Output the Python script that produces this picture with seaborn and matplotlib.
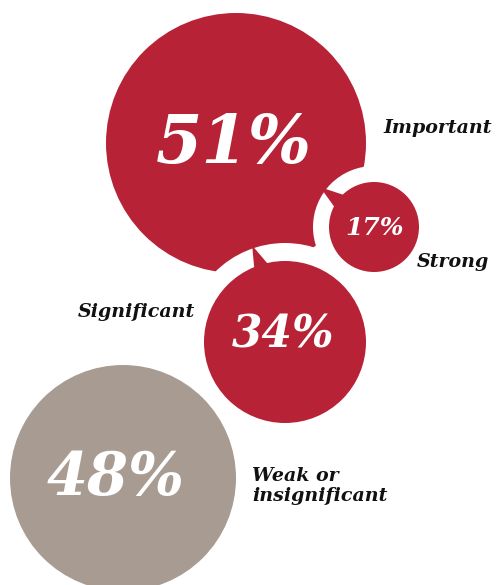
import numpy as np
import matplotlib
matplotlib.use("Agg")
import matplotlib.pyplot as plt
from matplotlib.patches import Circle, Polygon
import seaborn as sns

# Share of respondents per rating
categories = ["Important", "Strong", "Significant", "Weak or\ninsignificant"]
values = [51, 17, 34, 48]

# Bubble layout in pixel space (x, y measured from the top-left corner)
centers = [(236, 143), (374, 227), (285, 342), (123, 478)]
radii = [130, 45, 81, 113]
colors = ["#B72236", "#B72236", "#B72236", "#A89B92"]
value_sizes = [48, 18, 31.5, 42.5]          # pt
value_baselines = [163, 235, 347, 495]
value_x = [234, 375, 283, 116]

# Category label anchors (left, baseline of the last line)
label_pos = [(383, 133), (417, 267), (78, 317), (252, 501)]
label_size = 13.7

# White halo around the satellite bubbles and the small pointers joining them
halo_gap = {1: 16, 2: 18}
pointers = {
    1: (-153.4, -133.3, -143.5, 67),
    2: (-112.6, -102.4, -108.8, 102),
}

sns.set_theme(style="white")
plt.rcParams["font.family"] = ["DejaVu Serif"]

fig = plt.figure(figsize=(4.97, 5.85), dpi=100)
ax = fig.add_axes([0, 0, 1, 1])
ax.set_xlim(0, 497)
ax.set_ylim(585, 0)
ax.set_aspect("equal")
ax.axis("off")

# Main bubble first, then cut halos, then the satellites
ax.add_patch(Circle(centers[0], radii[0], color=colors[0], lw=0, zorder=1))
for i, gap in halo_gap.items():
    ax.add_patch(Circle(centers[i], radii[i] + gap, color="white", lw=0, zorder=2))
for i in range(1, 4):
    ax.add_patch(Circle(centers[i], radii[i], color=colors[i], lw=0, zorder=3))

for i, (a1, a2, a0, rt) in pointers.items():
    cx, cy = centers[i]
    r = radii[i] - 1
    pts = [
        (cx + r * np.cos(np.radians(a1)), cy + r * np.sin(np.radians(a1))),
        (cx + r * np.cos(np.radians(a2)), cy + r * np.sin(np.radians(a2))),
        (cx + rt * np.cos(np.radians(a0)), cy + rt * np.sin(np.radians(a0))),
    ]
    ax.add_patch(Polygon(pts, closed=True, color=colors[i], lw=0, zorder=3))

for v, x, yb, fs in zip(values, value_x, value_baselines, value_sizes):
    ax.text(x, yb, f"{v}%", ha="center", va="baseline", color="white",
            fontsize=fs, fontweight="bold", fontstyle="italic", zorder=5)

for lab, (x, yb) in zip(categories, label_pos):
    ax.text(x, yb, lab, ha="left", va="baseline", color="#111111",
            fontsize=label_size, fontweight="bold", fontstyle="italic",
            linespacing=1.15, zorder=5)

fig.savefig("out.png", dpi=100, facecolor="white")
